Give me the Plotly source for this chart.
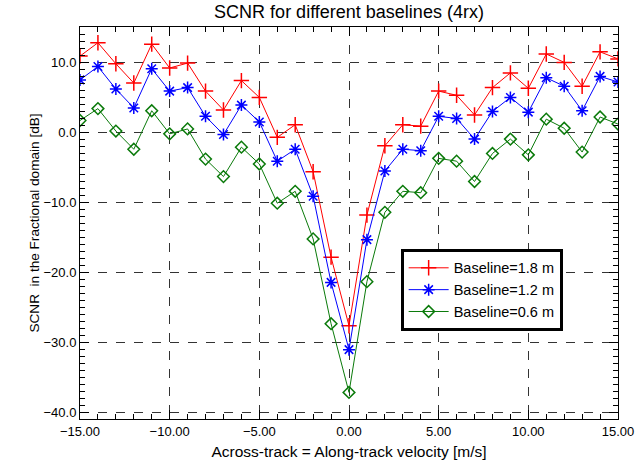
import plotly.graph_objects as go

velocity = list(range(-15, 16))

scnr_18 = [10.9, 12.8, 9.8, 7.05, 12.6, 9.2, 9.9, 5.9, 3.2, 7.4, 5.0, -0.7, 1.1, -5.6, -17.8, -27.6,
           -11.8, -1.9, 1.1, 0.9, 5.9, 5.3, 2.5, 6.4, 8.5, 6.3, 11.2, 10.0, 6.6, 11.5, 10.5]
scnr_12 = [7.5, 9.4, 6.2, 3.5, 9.1, 5.9, 6.4, 2.3, -0.3, 3.9, 1.5, -4.1, -2.4, -9.1, -21.4, -31.0,
           -15.3, -5.5, -2.4, -2.6, 2.3, 2.0, -0.95, 3.0, 5.0, 2.9, 7.8, 6.6, 3.1, 8.0, 7.2]
scnr_06 = [1.7, 3.4, 0.2, -2.4, 3.1, -0.2, 0.5, -3.8, -6.3, -2.1, -4.5, -10.1, -8.4, -15.2, -27.3, -37.1,
           -21.3, -11.4, -8.4, -8.6, -3.7, -4.1, -7.0, -3.0, -0.95, -3.2, 1.9, 0.6, -2.8, 2.2, 1.2]

series = [
    ("Baseline=1.8 m", scnr_18, "#ff0000", "cross-thin-open", 11),
    ("Baseline=1.2 m", scnr_12, "#0000ff", "asterisk-open", 10),
    ("Baseline=0.6 m", scnr_06, "#0a7a0a", "diamond-open", 9),
]

fig = go.Figure()
for name, vals, color, sym, size in series:
    fig.add_trace(go.Scatter(
        x=velocity, y=vals, name=name, mode="lines+markers",
        line=dict(color=color, width=1),
        marker=dict(symbol=sym, size=size, color=color, line=dict(color=color, width=1.5)),
    ))

font_family = "Liberation Sans, Arial, Helvetica, sans-serif"

fig.update_layout(
    width=636, height=467,
    margin=dict(l=80, r=18, t=27, b=48),
    paper_bgcolor="white", plot_bgcolor="white",
    font=dict(family=font_family, size=13, color="black"),
    title=dict(text="SCNR for different baselines (4rx)", x=(80 + 269) / 636, xanchor="center",
               y=1 - 12 / 467, yanchor="middle", font=dict(size=18)),
    showlegend=True,
    legend=dict(x=0.596, y=0.434, xanchor="left", yanchor="top",
                bordercolor="black", borderwidth=3, bgcolor="white",
                font=dict(size=14.5), tracegroupgap=0, itemwidth=40),
)

fig.update_xaxes(
    range=[-15, 15], tickmode="linear", tick0=-15, dtick=5, tickformat=".2f",
    ticks="inside", ticklen=9, tickcolor="black", mirror="ticks",
    showline=True, linecolor="black", linewidth=1, automargin=False,
    minor=dict(ticks="inside", ticklen=5, dtick=1, tickcolor="black", showgrid=False),
    showgrid=True, gridcolor="#333333", griddash="dash", gridwidth=1, zeroline=False,
    title=dict(text="Across-track = Along-track velocity [m/s]", standoff=8, font=dict(size=15.5)),
    tickfont=dict(size=13),
)
fig.update_yaxes(
    range=[-40.9, 15.05], tickmode="linear", tick0=-40, dtick=10, tickformat=".1f",
    ticks="inside", ticklen=9, tickcolor="black", mirror="ticks",
    showline=True, linecolor="black", linewidth=1, automargin=False,
    minor=dict(ticks="inside", ticklen=5, dtick=1, tickcolor="black", showgrid=False),
    showgrid=True, gridcolor="#333333", griddash="dash", gridwidth=1, zeroline=False,
    title=dict(text="SCNR  in the Fractional domain [dB]", standoff=0, font=dict(size=13.6)),
    tickfont=dict(size=13),
)

fig.write_html("out.html")
